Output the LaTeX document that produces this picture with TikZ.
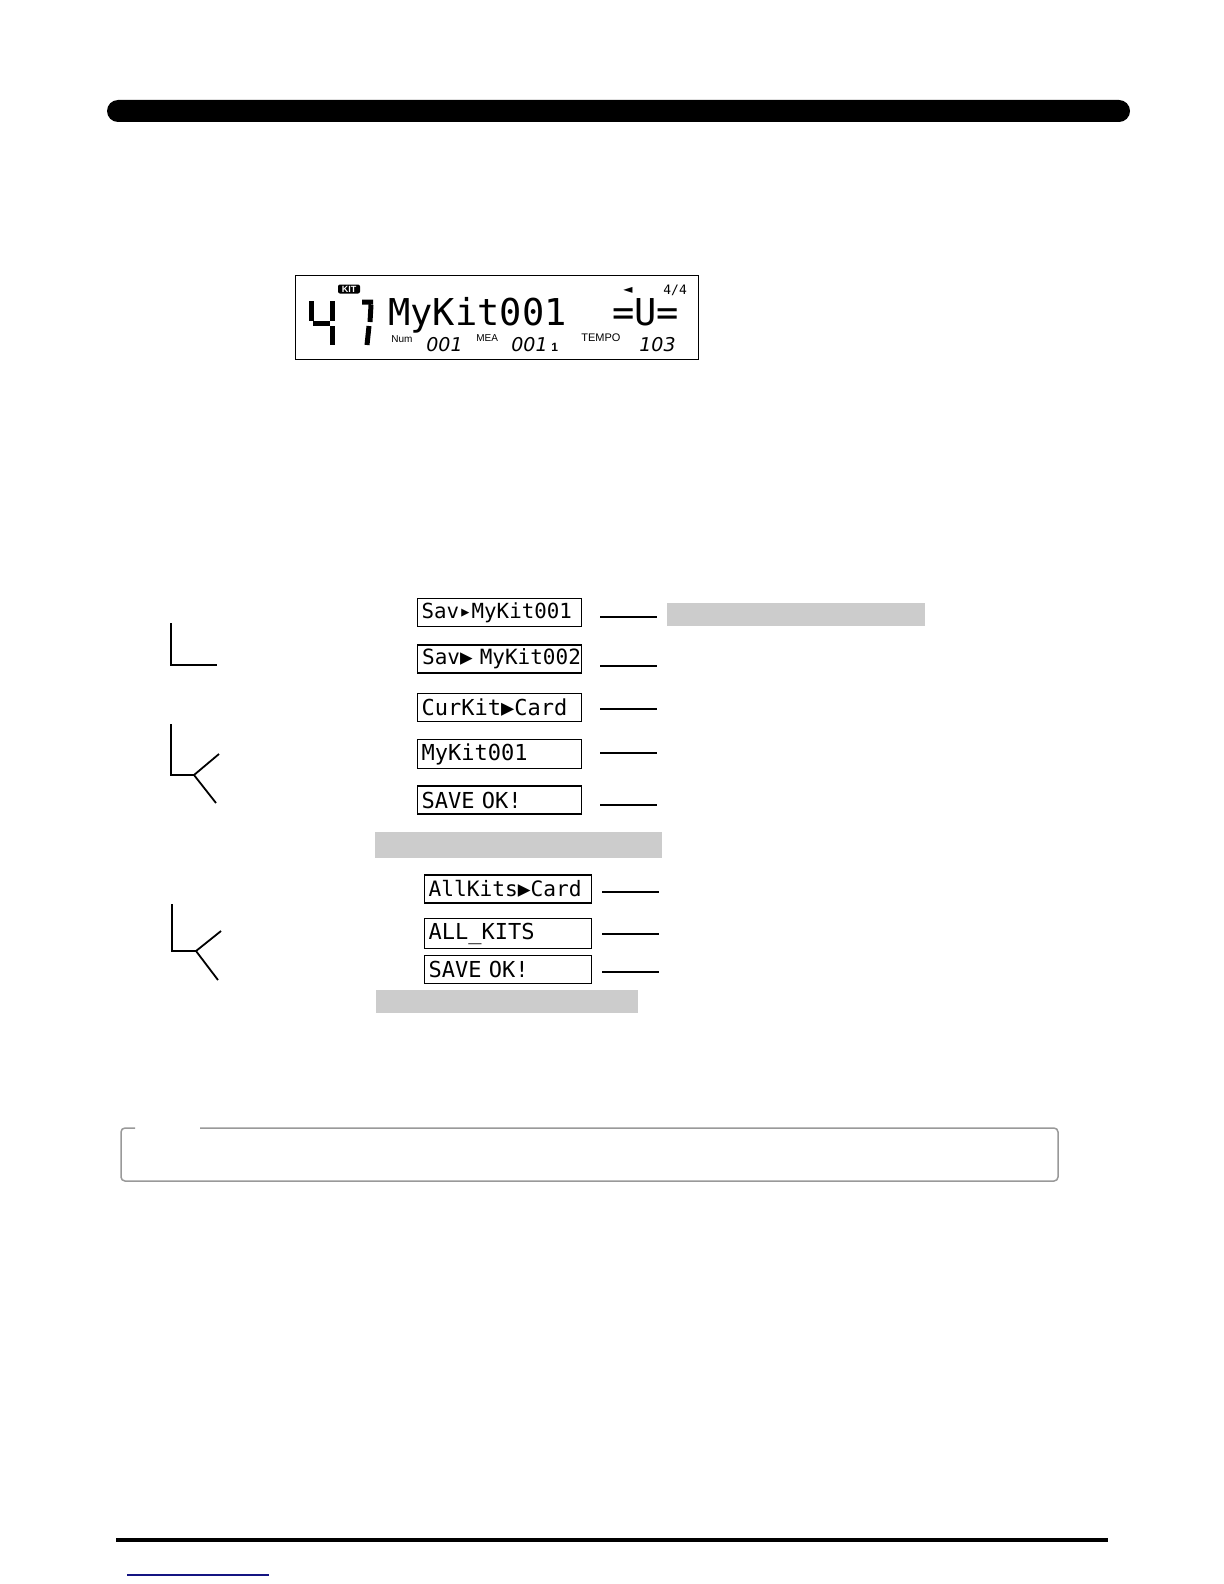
\documentclass[tikz,border=0pt]{standalone}
\usepackage{fontspec}
\setmainfont{Liberation Sans}
\newfontfamily\lcdfont{DejaVu Sans Mono}
\newfontfamily\segfont{DejaVu Sans}
\definecolor{barGray}{gray}{0.8}
\definecolor{noteGray}{gray}{0.6}
\definecolor{linkBlue}{RGB}{20,20,130}
\tikzset{
  screen/.style={draw,line width=0.6pt,anchor=west,minimum height=14pt,inner sep=2pt,
    text width=78pt,align=left,font=\lcdfont\fontsize{11}{12}\selectfont},
  widescreen/.style={screen,text width=79.5pt},
  lead/.style={line width=0.75pt},
  brace/.style={line width=0.9pt},
  seg/.style={line width=2.5pt},
  tiny/.style={font=\fontsize{5}{5}\selectfont,anchor=base west,inner sep=0pt},
  digits/.style={font=\segfont\itshape\fontsize{9.5}{10}\selectfont,anchor=base west,inner sep=0pt}
}
\begin{document}
\begin{tikzpicture}[x=0.5pt,y=-0.5pt]
\useasboundingbox[fill=white] (0,0) rectangle (1224,1584);
% top and bottom rules
\fill[rounded corners=5.5pt] (107,100) rectangle (1130,122);
\draw[line width=2pt] (116,1540)--(1108,1540);
\draw[linkBlue,line width=0.6pt] (127,1575)--(269,1575);
% lcd display
\draw[line width=0.5pt] (295,275) rectangle (698,359);
\node[fill=black,text=white,rounded corners=1pt,inner sep=0.6pt,minimum width=11pt,minimum height=4.5pt,
  font=\bfseries\fontsize{4.5}{4.5}\selectfont] (kit) at (349,289) {KIT};
\draw[seg] (311,301)--(311,321) (313,323)--(330,323) (332,301)--(332,321) (332,326)--(332,345);
\draw[seg] (362,302)--(373,302) (371,305)--(370,322) (369,326)--(367,345);
\node[font=\lcdfont\fontsize{18.5}{20}\selectfont,anchor=base west,inner sep=0pt] (kitname) at (388,325) {MyKit001};
\node[font=\lcdfont\fontsize{18.5}{20}\selectfont,anchor=base west,inner sep=0pt] (tie) at (612,325) {=U=};
\node[font=\segfont\fontsize{6}{6}\selectfont,inner sep=0pt] (dir) at (628,290) {◄};
\node[font=\lcdfont\fontsize{6.5}{7}\selectfont,anchor=base west,inner sep=0pt] (beat) at (663,294) {4/4};
\node[tiny] (num) at (391,342) {Num};
\node[digits] (numval) at (426,351) {001};
\node[tiny] (mea) at (476,341) {MEA};
\node[digits] (meaval) at (511,351) {001};
\node[tiny,font=\bfseries\fontsize{6}{6}\selectfont] (beatval) at (551,351) {1};
\node[tiny,font=\fontsize{5.5}{5.5}\selectfont] (tempo) at (581,341) {TEMPO};
\node[digits] (tempoval) at (639,351) {103};
% screens, kit save
\node[screen,font=\lcdfont\fontsize{10.4}{12}\selectfont] (s1) at (417,612.5) {Sav▸MyKit001};
\node[screen,path picture={\node[anchor=west,inner sep=2pt,text width=100pt,font=\lcdfont\fontsize{10.5}{12}\selectfont]
  at (path picture bounding box.west) {Sav▶ MyKit002};}] (s2) at (417,659) {\phantom{S}};
\node[screen] (s3) at (417,707.5) {CurKit▶Card};
\node[screen] (s4) at (417,754) {MyKit001};
\node[screen] (s5) at (417,800) {SAVE OK!};
% screens, all kits
\node[widescreen,font=\lcdfont\fontsize{10.6}{12}\selectfont] (s6) at (424,889) {AllKits▶Card};
\node[widescreen] (s7) at (424,933.5) {ALL\_KITS};
\node[widescreen] (s8) at (424,969.5) {SAVE  OK!};
\foreach \s/\d in {s1/4.5,s2/7,s3/1.5,s4/-1,s5/5}
  \draw[lead] ([shift={(18,\d)}]\s.east) -- ++(57,0);
\foreach \s/\d in {s6/3,s7/0.5,s8/2.5}
  \draw[lead] ([shift={(10,\d)}]\s.east) -- ++(57,0);
% gray bars
\fill[barGray] (667,603) rectangle (925,626);
\fill[barGray] (375,832) rectangle (662,858);
\fill[barGray] (376,990) rectangle (638,1013);
% left marks
\draw[brace] (171,623)--(171,665)--(217,665);
\draw[brace] (171,724)--(171,775)--(194,775) (219,754)--(194,775)--(216,803);
\draw[brace] (172,904)--(172,951)--(196,951) (221,931)--(196,951)--(218,980);
% note frame
\draw[noteGray,line width=0.75pt,rounded corners=2pt] (200,1128)--(1058,1128)--(1058,1181)--(121,1181)--(121,1128)--(135,1128);
\end{tikzpicture}
\end{document}
